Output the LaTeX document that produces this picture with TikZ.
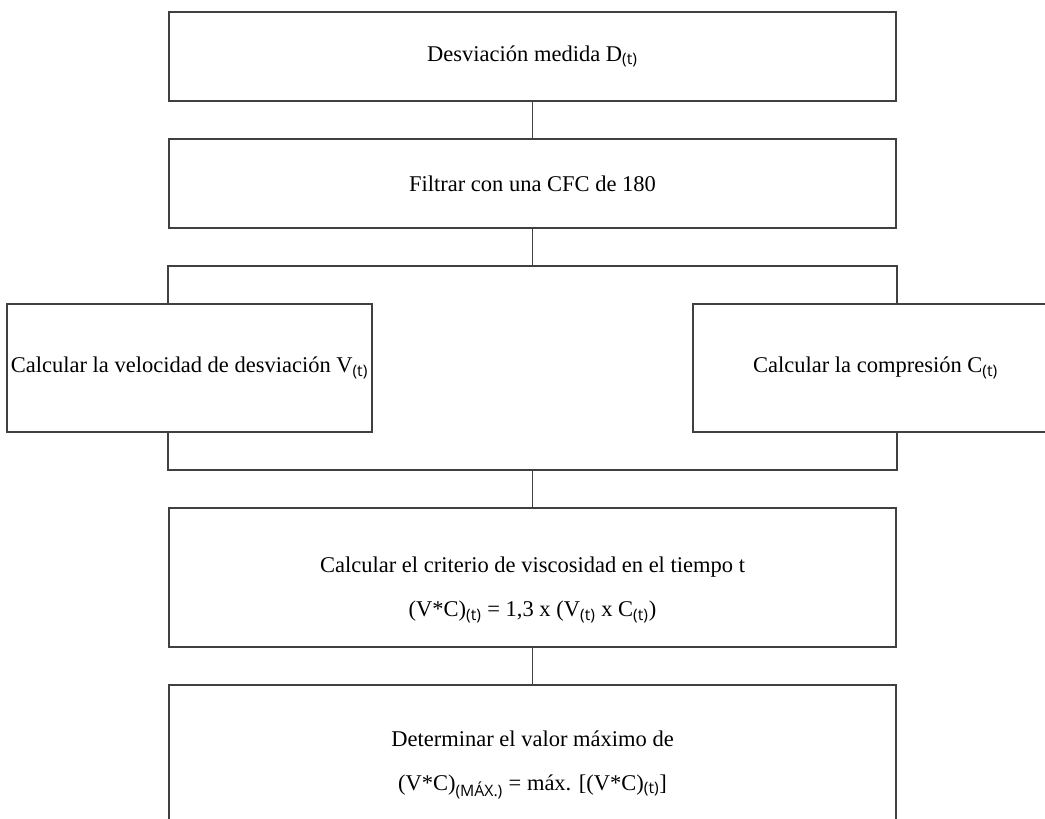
\documentclass[tikz,border=0pt]{standalone}
\usepackage{fontspec}
\setmainfont{Liberation Serif}
\newfontfamily\subfont{Open Sans}
\newcommand\idx[1][t]{\textsubscript{\subfont(#1)}}

\tikzset{
  box/.style={draw=black!75, line width=1.2pt, rectangle, inner sep=2pt,
    minimum width=18.175cm, minimum height=2.225cm, align=center},
  sidebox/.style={box, minimum width=9.125cm, minimum height=3.2cm},
  link/.style={draw=black!75, line width=1.2pt}
}

\begin{document}
\begin{tikzpicture}[x=0.025cm, y=-0.025cm, font=\fontsize{16}{19}\selectfont]
            \useasboundingbox (0,0) rectangle (1045,818);
            \clip (0,0) rectangle (1045,818);
            % chain at the top
            \node[box] (desv) at (532.5, 56.5) {Desviación medida D\idx};
            \node[box] (filt) at (532.5, 183.5) {Filtrar con una CFC de 180};
            \coordinate (split) at (532.5, 266);
            \path[link] (desv) -- (filt) (filt) -- (split);
            % the two branches
            \node[sidebox] (vel) at (189.5, 368) {Calcular la velocidad de desviación V\idx};
            \node[sidebox] (comp) at (875.5, 368) {Calcular la compresión C\idx};
            \coordinate (join) at (532.5, 470);
            \path[link] (vel.north -| desv.west) |- (split) -| (comp.north -| desv.east);
            \path[link] (vel.south -| desv.west) |- (join) -| (comp.south -| desv.east);
            % criterion and maximum
            \node[box, minimum height=3.475cm] (crit) at (532.5, 577.5) {};
            \node[align=center] (crittxt) at (532.5, 590)
                {Calcular el criterio de viscosidad en el tiempo t\\[12pt]
                 (V*C)\idx{} = 1,3 x (V\idx{} x C\idx)};
            \node[box, minimum height=4cm] (maxv) at (532.5, 765)
                {Determinar el valor máximo de\\[12pt]
                 (V*C)\idx[MÁX.] = máx. [(V*C)\idx]};
            \path[link] (join) -- (crit) (crit) -- (maxv);
        \end{tikzpicture}
\end{document}
